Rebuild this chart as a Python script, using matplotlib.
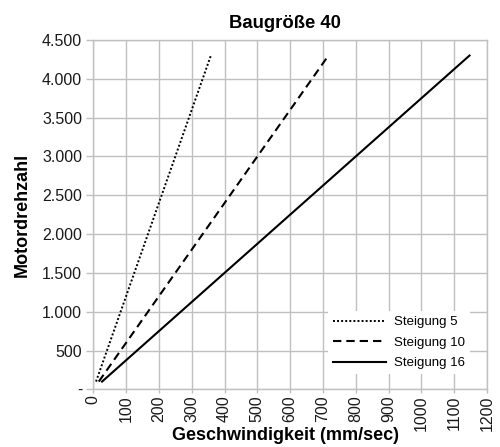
import matplotlib
matplotlib.use("Agg")
import matplotlib.pyplot as plt
from matplotlib.ticker import FuncFormatter, MultipleLocator

plt.rcParams['font.family'] = ['Liberation Sans', 'DejaVu Sans']

# Data
rpm = [100, 4300]
speed_5 = [8.3, 358.3]
speed_10 = [16.7, 716.7]
speed_16 = [26.7, 1146.7]
series_labels = ["Steigung 5", "Steigung 10", "Steigung 16"]

title = "Baugröße 40"
xlabel = "Geschwindigkeit (mm/sec)"
ylabel = "Motordrehzahl"

fig = plt.figure(figsize=(5.0, 4.47), dpi=100)
ax = fig.add_axes([0.1866, 0.129, 0.974 - 0.1866, 0.9105 - 0.129])

grid_c = "#c0c0c0"
ax.plot(speed_5, rpm, color="black", lw=1.4, linestyle=(0, (1, 1.1)), label=series_labels[0])
ax.plot(speed_10, rpm, color="black", lw=1.5, linestyle=(0, (4, 2.4)), label=series_labels[1])
ax.plot(speed_16, rpm, color="black", lw=1.5, linestyle="-", label=series_labels[2])

ax.set_xlim(0, 1200)
ax.set_ylim(0, 4500)
ax.xaxis.set_major_locator(MultipleLocator(100))
ax.yaxis.set_major_locator(MultipleLocator(500))

def yfmt(v, pos):
    if abs(v) < 1e-9:
        return "-"
    return f"{int(round(v)):,}".replace(",", ".")

ax.yaxis.set_major_formatter(FuncFormatter(yfmt))
ax.xaxis.set_major_formatter(FuncFormatter(lambda v, p: f"{int(round(v))}"))

ax.grid(True, color=grid_c, lw=1.0)
ax.set_axisbelow(True)
for s in ax.spines.values():
    s.set_color(grid_c)
    s.set_linewidth(1.0)

ax.tick_params(axis="both", colors=grid_c, labelcolor="#1a1a1a", width=1.0, labelsize=11.5)
ax.tick_params(axis="y", length=5.0, pad=3)
ax.tick_params(axis="x", length=3.0, pad=1.5, labelrotation=90)

ax.set_title(title, fontsize=13.3, fontweight="bold", pad=9, x=0.487)
ax.set_xlabel(xlabel, fontsize=13, fontweight="bold", va="top")
ax.xaxis.set_label_coords(0.489, -0.108)
ax.set_ylabel(ylabel, fontsize=13, fontweight="bold", va="center")
ax.yaxis.set_label_coords(-0.181, 0.5)

leg = ax.legend(loc="lower right", bbox_to_anchor=(0.964, 0.035), fontsize=9.5,
                handlelength=4.0, labelspacing=0.62, frameon=True,
                facecolor="white", edgecolor="none", framealpha=1.0,
                borderpad=0.4, handletextpad=0.6, borderaxespad=0.2)
leg.get_frame().set_boxstyle("square", pad=0.0)

fig.savefig("out.png", dpi=100)
